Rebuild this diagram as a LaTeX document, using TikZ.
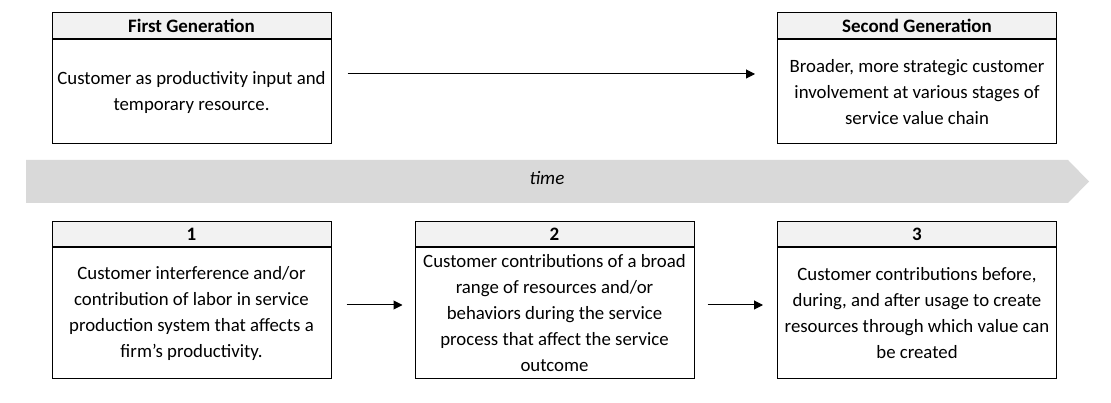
\documentclass[tikz,border=0pt]{standalone}
\usepackage{fontspec}
\setmainfont{Carlito}
\usetikzlibrary{arrows.meta,positioning}
\definecolor{hdrgray}{HTML}{F2F2F2}
\definecolor{bargray}{HTML}{D9D9D9}
\tikzset{
  hdr/.style={draw=black, line width=1pt, fill=hdrgray, minimum width=279pt, inner sep=0pt, font=\fontsize{19pt}{22pt}\selectfont\bfseries},
  body/.style={draw=black, line width=1pt, fill=white, minimum width=279pt, inner sep=0pt, align=center, font=\fontsize{18.8pt}{26pt}\selectfont},
  conn/.style={line width=1pt, -{Triangle[length=9pt,width=9pt]}}
}
\begin{document}
\begin{tikzpicture}[x=1pt,y=-1pt]
\useasboundingbox (0,0) rectangle (1111,403);
% time bar
\fill[bargray] (26,160) -- (1068,160) -- (1089,181.5) -- (1068,203) -- (26,203) -- cycle;
\node[font=\fontsize{19pt}{22pt}\selectfont\itshape] (time) at (547,178) {time};
% top boxes
\node[hdr, minimum height=26pt] (fgh) at (191.5,26) {First Generation};
\node[body, minimum height=104pt, below=0pt of fgh] (fg) {Customer as productivity input and\\temporary resource.};
\node[hdr, minimum height=26pt] (sgh) at (917,26) {Second Generation};
\node[body, minimum height=104pt, below=0pt of sgh] (sg) {Broader, more strategic customer\\involvement at various stages of\\service value chain};
% bottom boxes
\node[hdr, minimum height=25pt] (h1) at (191.5,234.5) {1};
\node[body, minimum height=130pt, below=0pt of h1] (b1) {Customer interference and/or\\contribution of labor in service\\production system that affects a\\firm’s productivity.};
\node[hdr, minimum height=25pt] (h2) at (554.5,234.5) {2};
\node[body, minimum height=130pt, below=0pt of h2] (b2) {Customer contributions of a broad\\range of resources and/or\\behaviors during the service\\process that affect the service\\outcome};
\node[hdr, minimum height=25pt] (h3) at (917,234.5) {3};
\node[body, minimum height=130pt, below=0pt of h3] (b3) {Customer contributions before,\\during, and after usage to create\\resources through which value can\\be created};
% connectors
\draw[conn] ([xshift=16pt,yshift=18pt]fg.east) -- ([xshift=-22pt,yshift=18pt]sg.west);
\draw[conn] ([xshift=15pt,yshift=8pt]b1.east) -- ([xshift=-12pt,yshift=8pt]b2.west);
\draw[conn] ([xshift=13pt,yshift=8pt]b2.east) -- ([xshift=-14pt,yshift=8pt]b3.west);
\end{tikzpicture}
\end{document}
